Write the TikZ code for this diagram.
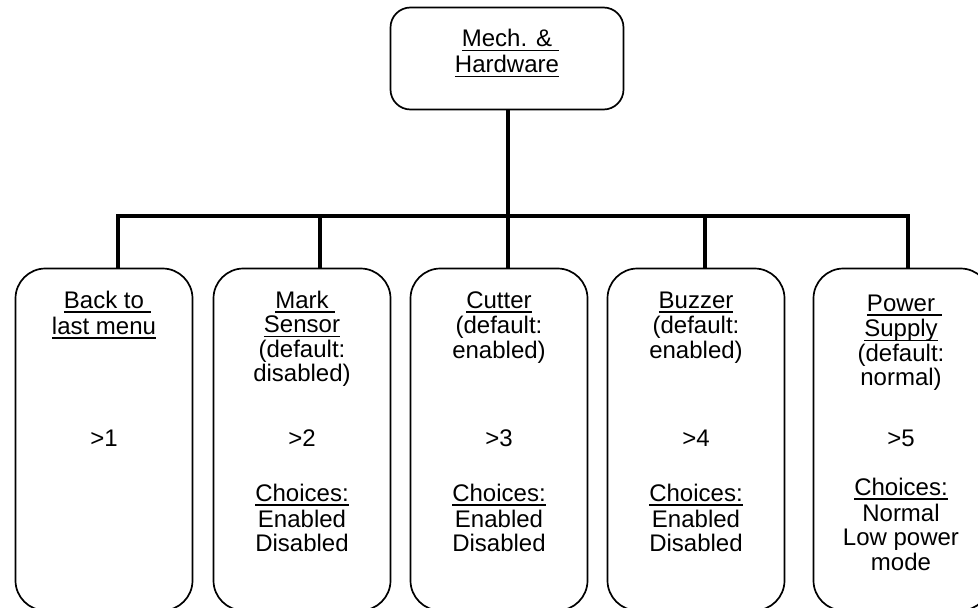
\documentclass[tikz,border=0pt]{standalone}
\usepackage{fontspec}
\setmainfont{Liberation Sans}
\newcommand{\myul}[1]{\setbox0=\hbox{#1}\rlap{\rule[-4.5pt]{\wd0}{1.9pt}}\box0}
\newcommand{\myulsp}[1]{\myul{#1}\rlap{\myul{\ }}}

\begin{document}
\begin{tikzpicture}
[x=1pt,y=-1pt,
menubox/.style={shape=rectangle,draw=black,line width=1.7pt,rounded corners=30pt,minimum width=177pt,minimum height=342pt,inner sep=0pt},
topbox/.style={menubox,rounded corners=20pt,minimum width=233pt,minimum height=102pt},
txt/.style={inner sep=0pt,align=center,font=\fontsize{24}{24.5}\selectfont},
myedge/.style={line width=4pt}]
\useasboundingbox (0,0) rectangle (978,608);
%%
\node (top) [topbox] at (507,58.5) {};
\node (top-t) [txt,anchor=north,font=\fontsize{24}{26}\selectfont] at (507,28.5) {\strut\myulsp{Mech. \&}\\\myul{Hardware}};
%%
\node (b1) [menubox] at (104,439.5) {};
\node (b2) [menubox] at (302,439.5) {};
\node (b3) [menubox] at (499,439.5) {};
\node (b4) [menubox] at (696,439.5) {};
\node (b5) [menubox] at (902,439.5) {};
%%
\node (b1-head) [txt,anchor=north] at (104,290.85) {\strut\myulsp{Back to}\\\myul{last menu}};
\node (b1-num) [txt,anchor=base] at (104,446.5) {>1};
\node (b2-head) [txt,anchor=north] at (302,290.85) {\strut\myulsp{Mark}\\\myul{Sensor}\\(default:\\disabled)};
\node (b2-num) [txt,anchor=base] at (302,446.5) {>2};
\node (b2-opt) [txt,anchor=north] at (302,483.85) {\strut\myul{Choices:}\\Enabled\\Disabled};
\node (b3-head) [txt,anchor=north] at (499,290.85) {\strut\myul{Cutter}\\(default:\\enabled)};
\node (b3-num) [txt,anchor=base] at (499,446.5) {>3};
\node (b3-opt) [txt,anchor=north] at (499,483.85) {\strut\myul{Choices:}\\Enabled\\Disabled};
\node (b4-head) [txt,anchor=north] at (696,290.85) {\strut\myul{Buzzer}\\(default:\\enabled)};
\node (b4-num) [txt,anchor=base] at (696,446.5) {>4};
\node (b4-opt) [txt,anchor=north] at (696,483.85) {\strut\myul{Choices:}\\Enabled\\Disabled};
\node (b5-head) [txt,anchor=north] at (901,293.85) {\strut\myulsp{Power}\\\myul{Supply}\\(default:\\normal)};
\node (b5-num) [txt,anchor=base] at (901,446.5) {>5};
\node (b5-opt) [txt,anchor=north] at (901,477.85) {\strut\myul{Choices:}\\Normal\\Low power\\mode};
%%
\coordinate (t1) at (118,216);
\coordinate (t2) at (320,216);
\coordinate (t3) at (508,216);
\coordinate (t4) at (705,216);
\coordinate (t5) at (908,216);
\draw[myedge] (t1 |- b1.north) -- (t1) -- (t5) -- (t5 |- b5.north);
\draw[myedge] (top.south -| t3) -- (t3 |- b3.north);
\draw[myedge] (t2) -- (t2 |- b2.north);
\draw[myedge] (t4) -- (t4 |- b4.north);
%%
\end{tikzpicture}
\end{document}
